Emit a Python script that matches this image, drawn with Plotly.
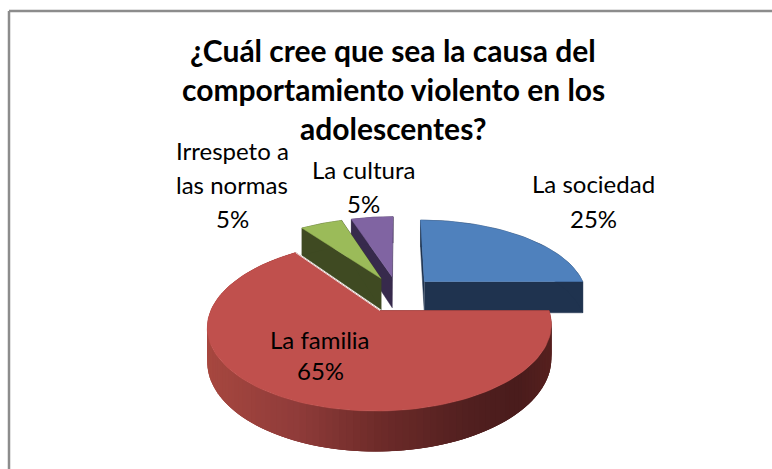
import numpy as np
import plotly.graph_objects as go

# ---- data ----
categories = ["La sociedad", "La familia", "Irrespeto a las normas", "La cultura"]
values = [25, 65, 5, 5]
label_lines = [["La sociedad"], ["La familia"], ["Irrespeto a", "las normas"], ["La cultura"]]
title_lines = ["¿Cuál cree que sea la causa del", "comportamiento violento en los", "adolescentes?"]

# ---- styles / layout ----
top_colors = ["#4F81BD", "#C0504D", "#9BBB59", "#8064A2"]
side_colors = ["#1F334F", "#4A1C1C", "#3F4A22", "#372A4C"]
label_xy = [[(593, 183), (593, 218)],
            [(320, 339), (320, 370)],
            [(232, 150), (232, 184), (232, 218)],
            [(363, 169), (363, 203)]]
CX, CY, R, K, P, DEPTH, PULL = 398, 294, 163, 0.468, 0.175, 32, 0.235


def project(u, v, z=0.0):
    s = 1 / (1 - P * v)
    return CX + R * u * s, CY + R * K * v * s + z * DEPTH * s


def slice_geom(start, end, n=60):
    mid = np.radians((start + end) / 2)
    ax, ay = PULL * np.sin(mid), -PULL * np.cos(mid)
    a = np.radians(np.linspace(start, end, n))
    return (ax, ay), ax + np.sin(a), ay - np.cos(a)


def poly(xs, ys, color, lw=0.0):
    return go.Scatter(x=list(xs), y=list(ys), mode="lines", fill="toself", fillcolor=color,
                      line=dict(color=color, width=lw), hoverinfo="skip", showlegend=False)


def red_wall_color(x):
    stops_x = [205, 300, 380, 470, 520, 560]
    r = np.interp(x, stops_x, [0xA8, 0x90, 0x6F, 0x52, 0x4A, 0x5A])
    g = np.interp(x, stops_x, [0x48, 0x3C, 0x2C, 0x20, 0x1C, 0x22])
    b = np.interp(x, stops_x, [0x40, 0x3A, 0x2A, 0x20, 0x1C, 0x20])
    return f"rgb({int(r)},{int(g)},{int(b)})"


total = sum(values)
cum = np.cumsum([0] + values) / total * 360
fig = go.Figure()

# draw order: back slices first, the big front slice last
for i in [3, 2, 0, 1]:
    start, end = cum[i], cum[i + 1]
    (ax, ay), us, vs = slice_geom(start, end, 120 if i == 1 else 40)
    color_top, color_side = top_colors[i], side_colors[i]

    # cut faces
    for (ru, rv) in [(us[0], vs[0]), (us[-1], vs[-1])]:
        pts = [project(ax, ay), project(ru, rv), project(ru, rv, 1), project(ax, ay, 1)]
        fig.add_trace(poly([p[0] for p in pts], [p[1] for p in pts], color_side, 0.5))

    # outer wall
    if i == 1:
        # overlapping strips, painted from the right: each runs on under the next one
        nseg = len(us) - 1
        for j in range(nseg):
            k = min(j + 3, nseg)
            a = project(us[j], vs[j])
            b = project(us[k], vs[k])
            c = project(us[k], vs[k], 1)
            d = project(us[j], vs[j], 1)
            col = red_wall_color(a[0])
            fig.add_trace(poly([a[0], b[0], c[0], d[0]], [a[1], b[1], c[1], d[1]], col))
    else:
        top = project(us, vs)
        bot = project(us, vs, 1)
        fig.add_trace(poly(np.r_[top[0], bot[0][::-1]], np.r_[top[1], bot[1][::-1]], color_side, 0.5))

    # top face
    xt, yt = project(np.r_[ax, us], np.r_[ay, vs])
    fig.add_trace(poly(xt, yt, color_top, 0.5))

    if i == 1:  # light rim on the cut edge next to the small slices
        ex, ey = project(np.array([ax, us[-1]]), np.array([ay, vs[-1]]))
        fig.add_trace(go.Scatter(x=ex, y=ey, mode="lines", line=dict(color="#F2DAD8", width=1),
                                 hoverinfo="skip", showlegend=False))

TEXT_FONT = "Lato, Carlito, Calibri, sans-serif"
annotations = []
for line, y in zip(title_lines, [50, 89, 128]):
    annotations.append(dict(x=393, y=y, text=f"<b>{line}</b>", showarrow=False, xref="x", yref="y",
                            font=dict(family=TEXT_FONT, size=30, color="black")))
for lines, val, xy in zip(label_lines, values, label_xy):
    texts = lines + [f"{round(val / total * 100)}%"]
    for t, (x, y) in zip(texts, xy):
        annotations.append(dict(x=x, y=y, text=t, showarrow=False, xref="x", yref="y",
                                font=dict(family=TEXT_FONT, size=24, color="black")))

frame = dict(color="#8C8C8C", width=2.5)
shapes = [dict(type="line", xref="x", yref="y", x0=9, y0=11, x1=772, y1=11, line=frame),
          dict(type="line", xref="x", yref="y", x0=9, y0=11, x1=9, y1=469, line=frame)]

fig.update_layout(width=772, height=469, margin=dict(l=0, r=0, t=0, b=0),
                  paper_bgcolor="white", plot_bgcolor="white", showlegend=False,
                  xaxis=dict(range=[0, 772], visible=False, fixedrange=True),
                  yaxis=dict(range=[469, 0], visible=False, fixedrange=True),
                  annotations=annotations, shapes=shapes)
fig.write_html("out.html", config=dict(displayModeBar=False),
               post_script="document.body.style.margin='0';document.body.style.overflow='hidden';")
